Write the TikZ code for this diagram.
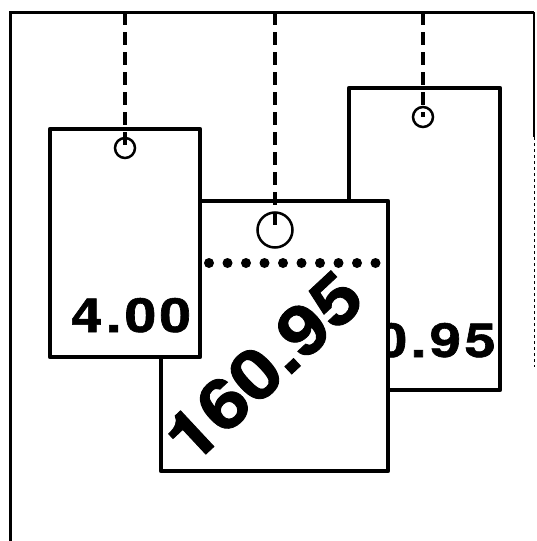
\documentclass[tikz,border=0pt]{standalone}
\usepackage{fontspec}
\newfontfamily\pricefont{TeX Gyre Heros}[FakeBold=1.2]
\begin{document}
\begin{tikzpicture}[x=1pt,y=-1pt,
    tagbox/.style={draw, fill=white, line width=4.5pt, line join=round},
    hole/.style={circle, draw, line width=2.5pt, inner sep=0pt},
    hangline/.style={line width=3.5pt, dash pattern=on 13pt off 7pt},
    price/.style={inner sep=0pt, font=\pricefont\bfseries}]
  \useasboundingbox (0,0) rectangle (536,541);

  \draw[line width=3pt] (534,12) -- (10,12) -- (10,541);
  \draw[line width=1.5pt] (534,12) -- (534,137);
  \draw[line width=1pt, dashed] (534,137) -- (534,367);

  % right tag
  \draw[tagbox] (349,88) rectangle (500,390);
  \node[price, anchor=base east] (priceR) at (496,357)
    {\fontsize{47}{50}\selectfont\addfontfeature{LetterSpace=6}\scalebox{1.2}[1]{0.95}};
  \node[hole, minimum size=20pt] (holeR) at (423,117) {};
  \coordinate (topR) at (423,12);
  \draw[hangline] (topR) -- (holeR.center);

  % middle tag
  \draw[tagbox] (161,201) rectangle (388,471);
  \foreach \i in {0,...,9}
    \fill (209+18.5*\i,263) circle (5pt);
  \node[price, rotate=43, anchor=base west] (priceM) at (192,467)
    {\fontsize{69}{72}\selectfont\scalebox{1.14}[1]{160.95}};
  \node[hole, minimum size=35pt] (holeM) at (275,230) {};
  \coordinate (topM) at (275,12);
  \draw[hangline] (topM) -- (holeM.center);

  % left tag
  \draw[tagbox] (50,129) rectangle (200,357);
  \node[price, anchor=base] (priceL) at (131,332)
    {\fontsize{47}{50}\selectfont\addfontfeature{LetterSpace=6}\scalebox{1.2}[1]{4.00}};
  \node[hole, minimum size=20pt] (holeL) at (125,148) {};
  \coordinate (topL) at (125,12);
  \draw[hangline] (topL) -- (holeL.center);
\end{tikzpicture}
\end{document}
